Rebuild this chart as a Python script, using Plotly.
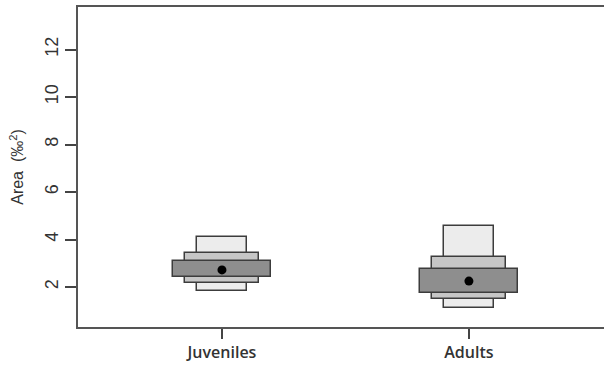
import plotly.graph_objects as go

# Groups and their posterior summaries of area
groups = ["Juveniles", "Adults"]
positions = [1, 2]
mode_vals = [2.72, 2.25]
ci95_low = [1.83, 1.12]
ci95_high = [4.10, 4.57]
ci75_low = [2.17, 1.49]
ci75_high = [3.43, 3.26]
ci50_low = [2.42, 1.75]
ci50_high = [3.09, 2.76]

y_ticks = [2, 4, 6, 8, 10, 12]

fig = go.Figure()

# credible interval boxes, widest interval drawn first
levels = [
    (ci95_low, ci95_high, 0.2, "#ececec"),
    (ci75_low, ci75_high, 0.3, "#c6c6c6"),
    (ci50_low, ci50_high, 0.4, "#8e8e8e"),
]
for lo, hi, w, col in levels:
    fig.add_trace(go.Bar(
        x=positions,
        base=lo,
        y=[h - l for l, h in zip(lo, hi)],
        width=w,
        marker=dict(color=col, line=dict(color="#3c3c3c", width=1.5)),
        showlegend=False,
        hoverinfo="skip",
    ))

fig.add_trace(go.Scatter(
    x=positions, y=mode_vals, mode="markers",
    marker=dict(color="black", size=9),
    showlegend=False,
))

fig.update_layout(
    width=604, height=366,
    margin=dict(l=78, r=0, t=7, b=39),
    plot_bgcolor="white", paper_bgcolor="white",
    barmode="overlay",
    bargap=0,
    font=dict(family="Liberation Sans, Arial, sans-serif", color="#333"),
)

fig.update_xaxes(
    range=[0.417, 2.547],
    tickvals=positions, ticktext=groups,
    ticks="outside", ticklen=10, tickwidth=1.5, tickcolor="#444",
    tickfont=dict(family="Open Sans, sans-serif", size=16, weight=600, color="#333"),
    showline=True, linecolor="#555", linewidth=1.5, mirror=True,
    showgrid=False, zeroline=False,
)

fig.update_yaxes(
    range=[0.316, 13.79],
    tickvals=y_ticks,
    ticks="outside", ticklen=11, tickwidth=1.5, tickcolor="#444",
    tickangle=-90,
    tickfont=dict(size=18, color="#333"),
    showline=True, linecolor="#555", linewidth=1.5, mirror=False,
    showgrid=False, zeroline=False,
    title=dict(text="Area  (‰<sup>2</sup>)", font=dict(size=16, color="#333"), standoff=14),
)

fig.write_html("out.html")
